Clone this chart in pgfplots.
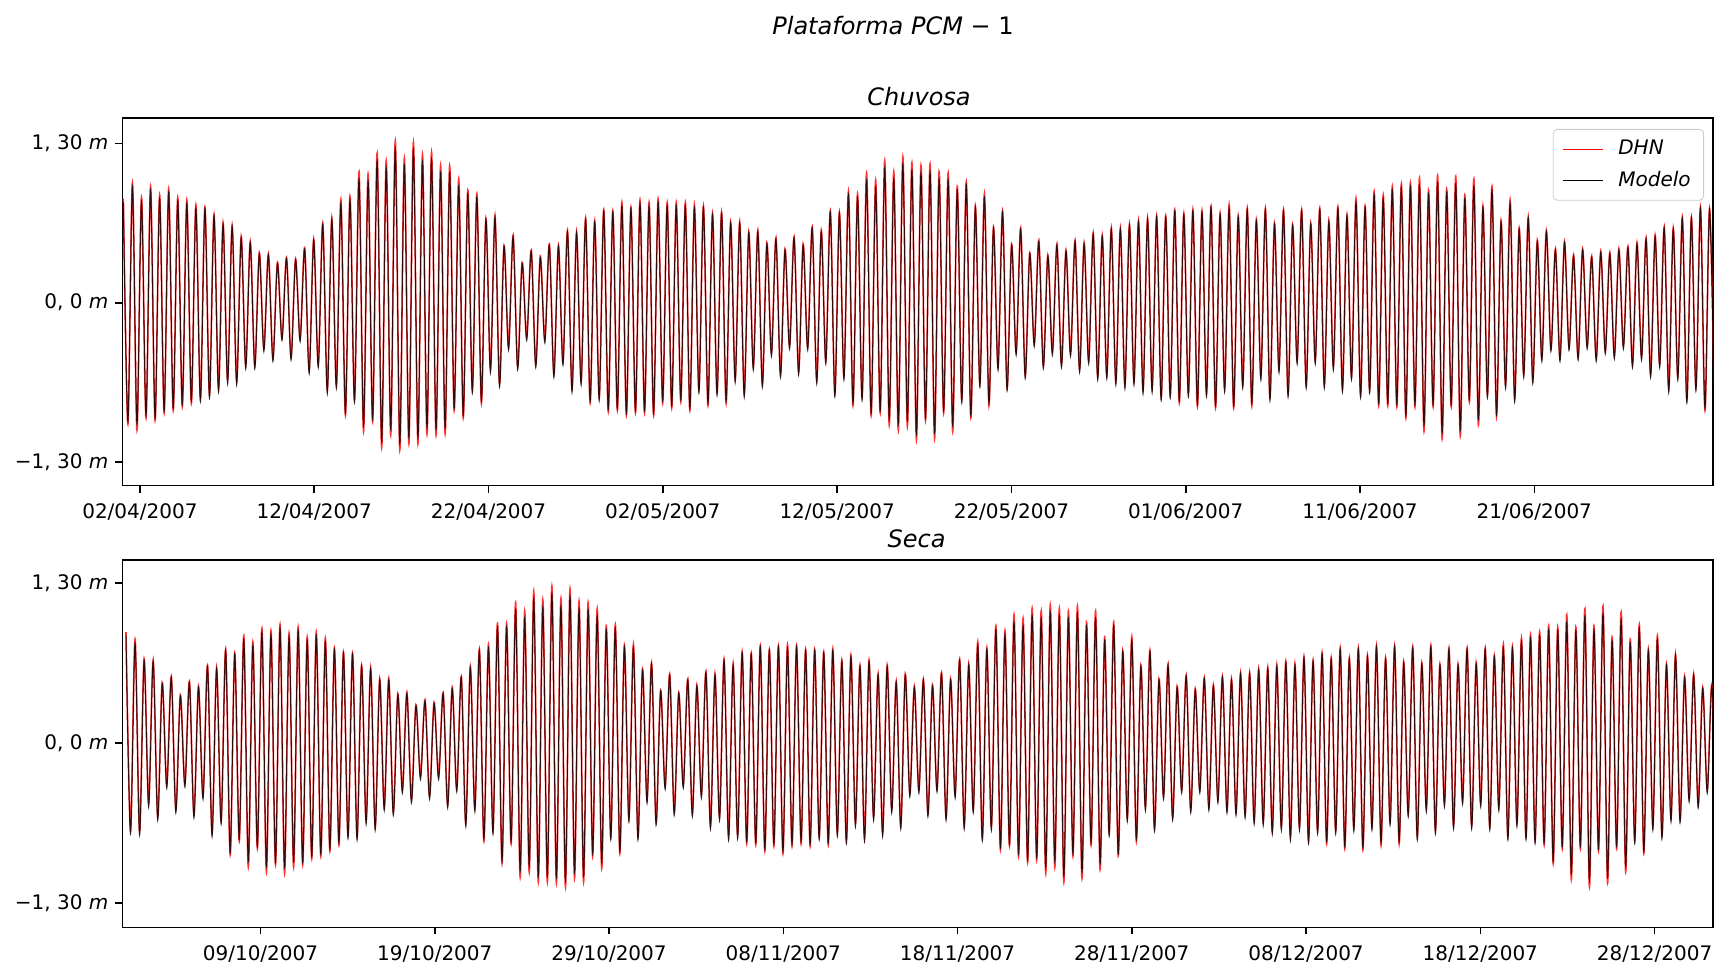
\documentclass[border=0pt]{standalone}
\usepackage{fontspec}
\setmainfont{DejaVu Sans}
\usepackage{pgfplots}
\usepackage{pgfplotstable}
\pgfplotsset{compat=1.18}
% t [days]; a = Chuvosa DHN, b = Chuvosa Modelo, c = Seca DHN, d = Seca Modelo
\pgfplotstableread{
t a b c d
0.05 0.85 0.82 0.90 0.87
0.31 -0.99 -0.97 -0.71 -0.74
0.57 0.98 0.95 0.84 0.81
0.83 -1.04 -0.99 -0.72 -0.75
1.09 0.86 0.83 0.68 0.67
1.35 -0.94 -0.92 -0.49 -0.52
1.61 0.95 0.92 0.67 0.66
1.87 -0.96 -0.94 -0.60 -0.63
2.13 0.88 0.85 0.49 0.48
2.39 -0.90 -0.88 -0.34 -0.37
2.65 0.93 0.90 0.54 0.53
2.91 -0.88 -0.86 -0.54 -0.57
3.17 0.86 0.83 0.39 0.38
3.43 -0.85 -0.83 -0.33 -0.36
3.69 0.84 0.81 0.50 0.49
3.95 -0.82 -0.80 -0.58 -0.61
4.21 0.80 0.77 0.46 0.45
4.47 -0.78 -0.81 -0.43 -0.46
4.73 0.78 0.77 0.63 0.62
4.99 -0.75 -0.78 -0.73 -0.76
5.25 0.72 0.71 0.61 0.60
5.51 -0.70 -0.73 -0.63 -0.66
5.77 0.65 0.64 0.76 0.75
6.03 -0.63 -0.66 -0.91 -0.89
6.29 0.63 0.62 0.73 0.72
6.55 -0.64 -0.67 -0.80 -0.78
6.81 0.54 0.53 0.87 0.84
7.07 -0.51 -0.54 -1.01 -0.96
7.33 0.50 0.49 0.82 0.79
7.59 -0.51 -0.54 -0.86 -0.84
7.85 0.41 0.40 0.93 0.90
8.11 -0.37 -0.40 -1.05 -1.00
8.37 0.40 0.39 0.91 0.88
8.63 -0.45 -0.48 -0.99 -0.97
8.89 0.33 0.32 0.96 0.93
9.15 -0.28 -0.31 -1.06 -1.01
9.41 0.37 0.36 0.89 0.86
9.67 -0.44 -0.47 -1.01 -0.96
9.93 0.36 0.35 0.94 0.91
10.19 -0.29 -0.32 -0.99 -0.97
10.45 0.45 0.44 0.86 0.83
10.71 -0.55 -0.58 -0.94 -0.92
10.97 0.52 0.51 0.90 0.87
11.23 -0.50 -0.53 -0.92 -0.90
11.49 0.65 0.64 0.85 0.82
11.75 -0.71 -0.74 -0.88 -0.86
12.01 0.69 0.68 0.77 0.76
12.27 -0.67 -0.70 -0.83 -0.81
12.53 0.84 0.81 0.74 0.73
12.79 -0.92 -0.90 -0.75 -0.78
13.05 0.87 0.84 0.73 0.72
13.31 -0.79 -0.82 -0.76 -0.79
13.57 1.07 1.01 0.63 0.62
13.83 -1.05 -1.00 -0.63 -0.66
14.09 1.05 0.99 0.61 0.60
14.35 -0.97 -0.95 -0.68 -0.71
14.61 1.22 1.16 0.52 0.51
14.87 -1.18 -1.13 -0.52 -0.55
15.13 1.16 1.10 0.52 0.51
15.39 -1.08 -1.03 -0.56 -0.59
15.65 1.32 1.26 0.40 0.39
15.91 -1.20 -1.15 -0.38 -0.41
16.17 1.18 1.12 0.41 0.40
16.43 -1.15 -1.10 -0.46 -0.49
16.69 1.31 1.25 0.31 0.30
16.95 -1.15 -1.10 -0.27 -0.30
17.21 1.21 1.15 0.35 0.34
17.47 -1.07 -1.02 -0.43 -0.46
17.73 1.23 1.17 0.33 0.32
17.99 -1.08 -1.03 -0.27 -0.30
18.25 1.12 1.06 0.41 0.40
18.51 -1.07 -1.02 -0.50 -0.53
18.77 1.12 1.06 0.45 0.44
19.03 -0.88 -0.86 -0.37 -0.40
19.29 1.01 0.95 0.54 0.53
19.55 -0.94 -0.92 -0.65 -0.68
19.81 0.92 0.89 0.62 0.61
20.07 -0.71 -0.74 -0.53 -0.56
20.33 0.89 0.86 0.76 0.75
20.59 -0.82 -0.80 -0.80 -0.78
20.85 0.69 0.68 0.80 0.77
21.11 -0.54 -0.57 -0.71 -0.74
21.37 0.71 0.70 0.97 0.94
21.63 -0.66 -0.69 -0.98 -0.96
21.89 0.47 0.46 0.97 0.94
22.15 -0.36 -0.39 -0.82 -0.80
22.41 0.55 0.54 1.14 1.08
22.67 -0.52 -0.55 -1.09 -1.04
22.93 0.33 0.32 1.07 1.01
23.19 -0.28 -0.31 -1.05 -1.00
23.45 0.43 0.42 1.23 1.17
23.71 -0.50 -0.53 -1.13 -1.08
23.97 0.38 0.37 1.16 1.10
24.23 -0.30 -0.33 -1.13 -1.08
24.49 0.48 0.47 1.27 1.21
24.75 -0.58 -0.61 -1.14 -1.09
25.01 0.47 0.46 1.17 1.11
25.27 -0.48 -0.51 -1.17 -1.12
25.53 0.59 0.58 1.25 1.19
25.79 -0.70 -0.73 -1.10 -1.05
26.05 0.58 0.57 1.15 1.09
26.31 -0.64 -0.67 -1.13 -1.08
26.57 0.69 0.68 1.14 1.08
26.83 -0.82 -0.80 -0.92 -0.90
27.09 0.67 0.66 1.09 1.03
27.35 -0.77 -0.80 -1.02 -0.97
27.61 0.76 0.75 0.95 0.92
27.87 -0.89 -0.87 -0.76 -0.79
28.13 0.75 0.74 0.96 0.93
28.39 -0.88 -0.86 -0.90 -0.88
28.65 0.82 0.79 0.79 0.78
28.91 -0.92 -0.90 -0.61 -0.64
29.17 0.78 0.77 0.80 0.77
29.43 -0.90 -0.88 -0.76 -0.79
29.69 0.84 0.81 0.60 0.59
29.95 -0.90 -0.88 -0.46 -0.49
30.21 0.82 0.79 0.65 0.64
30.47 -0.92 -0.90 -0.64 -0.67
30.73 0.85 0.82 0.43 0.42
30.99 -0.82 -0.80 -0.35 -0.38
31.25 0.82 0.79 0.56 0.55
31.51 -0.86 -0.84 -0.56 -0.59
31.77 0.82 0.79 0.41 0.40
32.03 -0.81 -0.79 -0.34 -0.37
32.29 0.82 0.79 0.52 0.51
32.55 -0.88 -0.86 -0.57 -0.60
32.81 0.80 0.77 0.47 0.46
33.07 -0.71 -0.74 -0.42 -0.45
33.33 0.79 0.78 0.58 0.57
33.59 -0.84 -0.82 -0.67 -0.70
33.85 0.73 0.72 0.56 0.55
34.11 -0.73 -0.76 -0.60 -0.63
34.37 0.74 0.73 0.68 0.67
34.63 -0.82 -0.80 -0.76 -0.79
34.89 0.66 0.65 0.64 0.63
35.15 -0.62 -0.65 -0.75 -0.78
35.41 0.66 0.65 0.74 0.73
35.67 -0.74 -0.77 -0.82 -0.80
35.93 0.58 0.57 0.73 0.72
36.19 -0.52 -0.55 -0.83 -0.81
36.45 0.59 0.58 0.79 0.78
36.71 -0.66 -0.69 -0.88 -0.86
36.97 0.49 0.48 0.76 0.75
37.23 -0.41 -0.44 -0.84 -0.82
37.49 0.53 0.52 0.79 0.78
37.75 -0.58 -0.61 -0.90 -0.88
38.01 0.44 0.43 0.80 0.77
38.27 -0.35 -0.38 -0.84 -0.82
38.53 0.54 0.53 0.79 0.78
38.79 -0.56 -0.59 -0.82 -0.80
39.05 0.48 0.47 0.76 0.75
39.31 -0.36 -0.39 -0.84 -0.82
39.57 0.62 0.61 0.76 0.75
39.83 -0.63 -0.66 -0.76 -0.79
40.09 0.59 0.58 0.74 0.73
40.35 -0.47 -0.50 -0.83 -0.81
40.61 0.75 0.74 0.76 0.75
40.87 -0.74 -0.77 -0.73 -0.76
41.13 0.74 0.73 0.67 0.66
41.39 -0.60 -0.63 -0.79 -0.82
41.65 0.91 0.88 0.71 0.70
41.91 -0.84 -0.82 -0.65 -0.68
42.17 0.89 0.86 0.63 0.62
42.43 -0.77 -0.80 -0.77 -0.80
42.69 1.06 1.00 0.67 0.66
42.95 -0.92 -0.90 -0.60 -0.63
43.21 1.00 0.94 0.56 0.55
43.47 -0.90 -0.88 -0.73 -0.76
43.73 1.16 1.10 0.63 0.62
43.99 -1.00 -0.95 -0.54 -0.57
44.25 1.07 1.01 0.50 0.49
44.51 -1.04 -0.99 -0.67 -0.70
44.77 1.19 1.13 0.56 0.55
45.03 -1.01 -0.96 -0.41 -0.44
45.29 1.14 1.08 0.46 0.45
45.55 -1.12 -1.07 -0.38 -0.41
45.81 1.12 1.06 0.52 0.51
46.07 -0.96 -0.94 -0.57 -0.60
46.33 1.13 1.07 0.47 0.46
46.59 -1.11 -1.06 -0.37 -0.40
46.85 1.07 1.01 0.57 0.56
47.11 -0.90 -0.88 -0.60 -0.63
47.37 1.06 1.00 0.52 0.51
47.63 -1.05 -1.00 -0.42 -0.45
47.89 0.95 0.92 0.68 0.67
48.15 -0.79 -0.82 -0.67 -0.70
48.41 0.99 0.96 0.64 0.63
48.67 -0.94 -0.92 -0.54 -0.57
48.93 0.79 0.78 0.82 0.79
49.19 -0.66 -0.69 -0.77 -0.80
49.45 0.89 0.86 0.77 0.76
49.71 -0.84 -0.82 -0.68 -0.71
49.97 0.62 0.61 0.95 0.92
50.23 -0.52 -0.55 -0.87 -0.85
50.49 0.75 0.74 0.91 0.88
50.75 -0.69 -0.72 -0.84 -0.82
51.01 0.48 0.47 1.04 0.98
51.27 -0.40 -0.43 -0.92 -0.90
51.53 0.61 0.60 1.01 0.95
51.79 -0.59 -0.62 -0.97 -0.95
52.05 0.41 0.40 1.09 1.03
52.31 -0.33 -0.36 -0.95 -0.93
52.57 0.51 0.50 1.07 1.01
52.83 -0.51 -0.54 -1.06 -1.01
53.09 0.39 0.38 1.12 1.06
53.35 -0.40 -0.43 -1.01 -0.96
53.61 0.48 0.47 1.09 1.03
53.87 -0.50 -0.53 -1.13 -1.08
54.13 0.43 0.42 1.07 1.01
54.39 -0.41 -0.44 -0.92 -0.90
54.65 0.51 0.50 1.11 1.05
54.91 -0.54 -0.57 -1.10 -1.05
55.17 0.49 0.48 0.98 0.95
55.43 -0.47 -0.50 -0.83 -0.81
55.69 0.57 0.56 1.07 1.01
55.95 -0.60 -0.63 -1.03 -0.98
56.21 0.55 0.54 0.86 0.83
56.47 -0.59 -0.62 -0.73 -0.76
56.73 0.61 0.60 0.98 0.95
56.99 -0.64 -0.67 -0.92 -0.90
57.25 0.61 0.60 0.75 0.74
57.51 -0.67 -0.70 -0.61 -0.64
57.77 0.64 0.63 0.86 0.83
58.03 -0.64 -0.67 -0.80 -0.78
58.29 0.67 0.66 0.63 0.62
58.55 -0.71 -0.74 -0.52 -0.55
58.81 0.69 0.68 0.75 0.74
59.07 -0.70 -0.73 -0.69 -0.72
59.33 0.71 0.70 0.52 0.51
59.59 -0.77 -0.80 -0.43 -0.46
59.85 0.71 0.70 0.64 0.63
60.11 -0.75 -0.78 -0.60 -0.63
60.37 0.76 0.75 0.46 0.45
60.63 -0.82 -0.80 -0.38 -0.41
60.89 0.73 0.72 0.55 0.54
61.15 -0.74 -0.77 -0.54 -0.57
61.41 0.76 0.75 0.44 0.43
61.67 -0.85 -0.83 -0.38 -0.41
61.93 0.75 0.74 0.53 0.52
62.19 -0.74 -0.77 -0.52 -0.55
62.45 0.79 0.78 0.47 0.46
62.71 -0.86 -0.84 -0.46 -0.49
62.97 0.73 0.72 0.54 0.53
63.23 -0.70 -0.73 -0.54 -0.57
63.49 0.80 0.77 0.52 0.51
63.75 -0.86 -0.84 -0.56 -0.59
64.01 0.71 0.70 0.57 0.56
64.27 -0.67 -0.70 -0.58 -0.61
64.53 0.77 0.76 0.57 0.56
64.79 -0.84 -0.82 -0.63 -0.66
65.05 0.68 0.67 0.60 0.59
65.31 -0.60 -0.63 -0.64 -0.67
65.57 0.77 0.76 0.61 0.60
65.83 -0.77 -0.80 -0.71 -0.74
66.09 0.65 0.64 0.63 0.62
66.35 -0.54 -0.57 -0.68 -0.71
66.61 0.76 0.75 0.66 0.65
66.87 -0.74 -0.77 -0.76 -0.79
67.13 0.64 0.63 0.64 0.63
67.39 -0.47 -0.50 -0.68 -0.71
67.65 0.76 0.75 0.70 0.69
67.91 -0.67 -0.70 -0.79 -0.82
68.17 0.65 0.64 0.67 0.66
68.43 -0.47 -0.50 -0.71 -0.74
68.69 0.77 0.76 0.73 0.72
68.95 -0.67 -0.70 -0.82 -0.80
69.21 0.67 0.66 0.69 0.68
69.47 -0.52 -0.55 -0.71 -0.74
69.73 0.78 0.77 0.77 0.76
69.99 -0.70 -0.73 -0.86 -0.84
70.25 0.72 0.71 0.69 0.68
70.51 -0.60 -0.63 -0.69 -0.72
70.77 0.85 0.82 0.77 0.76
71.03 -0.75 -0.78 -0.87 -0.85
71.29 0.79 0.78 0.71 0.70
71.55 -0.71 -0.74 -0.68 -0.71
71.81 0.91 0.88 0.79 0.78
72.07 -0.84 -0.82 -0.83 -0.81
72.33 0.88 0.85 0.69 0.68
72.59 -0.84 -0.82 -0.64 -0.67
72.85 0.95 0.92 0.79 0.78
73.11 -0.85 -0.83 -0.82 -0.80
73.37 0.97 0.94 0.66 0.65
73.63 -0.94 -0.92 -0.57 -0.60
73.89 0.98 0.95 0.78 0.77
74.15 -0.85 -0.83 -0.76 -0.79
74.41 1.02 0.96 0.65 0.64
74.67 -1.05 -1.00 -0.53 -0.56
74.93 0.92 0.89 0.79 0.78
75.19 -0.85 -0.83 -0.71 -0.74
75.45 1.04 0.98 0.64 0.63
75.71 -1.11 -1.06 -0.49 -0.52
75.97 0.93 0.90 0.77 0.76
76.23 -0.85 -0.83 -0.67 -0.70
76.49 1.03 0.97 0.64 0.63
76.75 -1.09 -1.04 -0.47 -0.50
77.01 0.88 0.85 0.77 0.76
77.27 -0.81 -0.79 -0.67 -0.70
77.53 1.01 0.95 0.65 0.64
77.79 -1.00 -0.95 -0.49 -0.52
78.05 0.79 0.78 0.77 0.76
78.31 -0.75 -0.78 -0.68 -0.71
78.57 0.95 0.92 0.71 0.70
78.83 -0.93 -0.91 -0.52 -0.55
79.09 0.67 0.66 0.80 0.77
79.35 -0.67 -0.70 -0.76 -0.79
79.61 0.84 0.81 0.78 0.77
79.87 -0.78 -0.81 -0.65 -0.68
80.13 0.61 0.60 0.85 0.82
80.39 -0.58 -0.61 -0.76 -0.79
80.65 0.70 0.69 0.88 0.85
80.91 -0.63 -0.66 -0.79 -0.82
81.17 0.51 0.50 0.90 0.87
81.43 -0.45 -0.48 -0.83 -0.81
81.69 0.59 0.58 0.95 0.92
81.95 -0.37 -0.40 -0.98 -0.96
82.21 0.44 0.43 0.94 0.91
82.47 -0.45 -0.48 -0.86 -0.84
82.73 0.50 0.49 1.04 0.98
82.99 -0.36 -0.39 -1.11 -1.06
83.25 0.39 0.38 0.94 0.91
83.51 -0.44 -0.47 -0.86 -0.84
83.77 0.44 0.43 1.09 1.03
84.03 -0.35 -0.38 -1.17 -1.12
84.29 0.38 0.37 0.95 0.92
84.55 -0.45 -0.48 -0.88 -0.86
84.81 0.42 0.41 1.11 1.05
85.07 -0.39 -0.42 -1.14 -1.09
85.33 0.41 0.40 0.86 0.83
85.59 -0.43 -0.46 -0.86 -0.84
85.85 0.44 0.43 1.06 1.00
86.11 -0.35 -0.38 -1.05 -1.00
86.37 0.46 0.45 0.84 0.81
86.63 -0.50 -0.53 -0.79 -0.82
86.89 0.49 0.48 0.96 0.93
87.15 -0.44 -0.47 -0.90 -0.88
87.41 0.53 0.52 0.76 0.75
87.67 -0.58 -0.61 -0.68 -0.71
87.93 0.55 0.54 0.87 0.84
88.19 -0.50 -0.53 -0.75 -0.78
88.45 0.62 0.61 0.64 0.63
88.71 -0.70 -0.73 -0.61 -0.64
88.97 0.61 0.60 0.72 0.71
89.23 -0.60 -0.63 -0.62 -0.65
89.49 0.70 0.69 0.54 0.53
89.75 -0.79 -0.82 -0.45 -0.48
90.01 0.70 0.69 0.56 0.55
90.27 -0.69 -0.72 -0.50 -0.53
90.53 0.78 0.77 0.45 0.44
90.79 -0.88 -0.86 -0.38 -0.41
91.05 0.77 0.76 0.47 0.46
91.31 -0.67 -0.70 -0.40 -0.43
}\tidedata

\pgfplotsset{
  tidebase/.style={
    scale only axis,
    width=795.25pt,
    height=183.8pt,
    anchor=south west,
    axis line style={line width=0.8pt},
    tick style={line width=0.8pt, black},
    major tick length=3.5pt,
    tick align=outside,
    tick pos=left,
    ytick={-1.3,0,1.3},
    yticklabels={{−1, 30 \textit{m}},{0, 0 \textit{m}},{1, 30 \textit{m}}},
    ticklabel style={font=\fontsize{10}{12}\selectfont},
    xticklabel style={yshift=-2pt},
    clip=true,
  },
  dhn/.style={red, line width=0.8pt, opacity=0.8, smooth, tension=0.5},
  mod/.style={black, line width=0.5pt, opacity=0.8, smooth, tension=0.5},
}

\begin{document}
\begin{tikzpicture}
\useasboundingbox (0,0) rectangle (857.5pt,482pt);

\node[font=\fontsize{12}{14}\selectfont] at (446.5pt,469pt) {\textit{Plataforma PCM} − 1};
\node[font=\fontsize{12}{14}\selectfont] at (459.5pt,433.5pt) {\textit{Chuvosa}};
\node[font=\fontsize{12}{14}\selectfont] at (458.3pt,212.4pt) {\textit{Seca}};

\begin{axis}[tidebase,
  at={(61.25pt,239.2pt)},
  xmin=0, xmax=91.25,
  ymin=-1.494, ymax=1.509,
  xtick={1,11,21,31,41,51,61,71,81},
  xticklabels={02/04/2007,12/04/2007,22/04/2007,02/05/2007,12/05/2007,22/05/2007,01/06/2007,11/06/2007,21/06/2007},
  legend cell align=left,
  legend style={at={(rel axis cs:1,1)}, anchor=north east, xshift=-4.5pt, yshift=-5.5pt,
    draw=black!20, rounded corners=2pt, fill=white, fill opacity=0.8, text opacity=1,
    font=\fontsize{10}{12}\selectfont\itshape, row sep=2.5pt, inner xsep=4.5pt, inner ysep=3.5pt},
  legend image code/.code={\draw[#1, line width=0.5pt, opacity=1] (0pt,0pt) -- (20pt,0pt);},
]
\addplot[dhn] table[x=t, y=a] {\tidedata};
\addlegendentry{\hspace{5.5pt}DHN}
\addplot[mod] table[x=t, y=b] {\tidedata};
\addlegendentry{\hspace{5.5pt}Modelo}
\end{axis}

\begin{axis}[tidebase,
  at={(61.25pt,18.25pt)},
  xmin=-0.15, xmax=91.12,
  ymin=-1.501, ymax=1.486,
  xtick={7.77,17.77,27.77,37.77,47.77,57.77,67.77,77.77,87.77},
  xticklabels={09/10/2007,19/10/2007,29/10/2007,08/11/2007,18/11/2007,28/11/2007,08/12/2007,18/12/2007,28/12/2007},
]
\addplot[dhn] table[x=t, y=c] {\tidedata};
\addplot[mod] table[x=t, y=d] {\tidedata};
\end{axis}
\end{tikzpicture}
\end{document}
